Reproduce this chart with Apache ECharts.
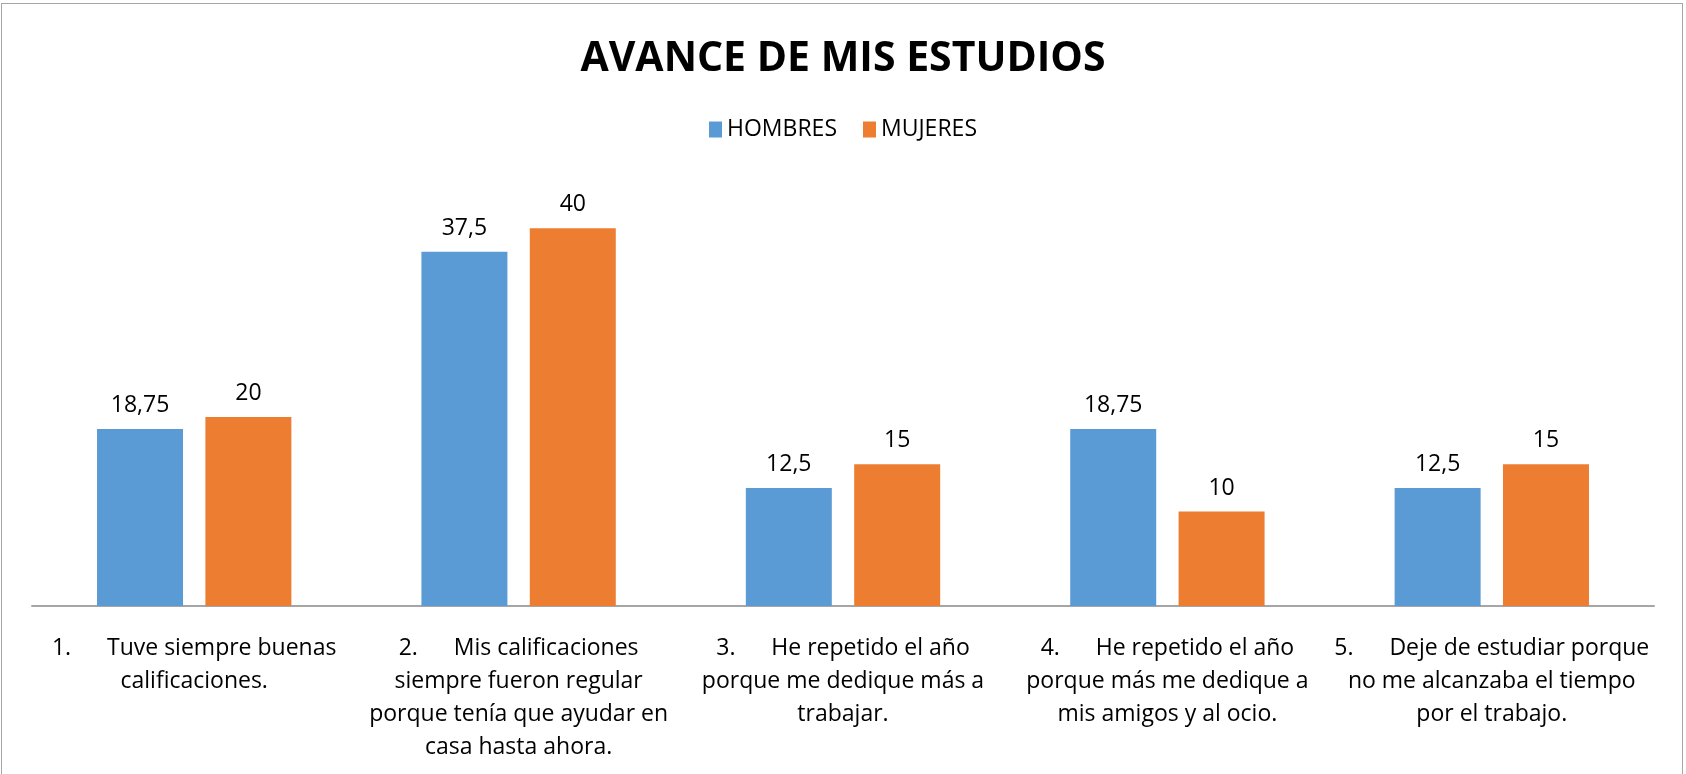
<!DOCTYPE html>
<html>
<head>
<meta charset="utf-8">
<title>Avance de mis estudios</title>
<script src="https://cdn.jsdelivr.net/npm/echarts@6/dist/echarts.min.js"></script>
<style>
  html, body { margin: 0; padding: 0; background: #fff; }
  #main { width: 1686px; height: 774px; }
  #frame { position: absolute; left: 1px; top: 3px; width: 1680px; height: 780px; border: 1px solid #a6a6a6; pointer-events: none; }
</style>
</head>
<body>
<div id="main"></div>
<div id="frame"></div>
<script>
// categorías (ya partidas en líneas como en la hoja)
var categorias = [
  '1.      Tuve siempre buenas\ncalificaciones.',
  '2.      Mis calificaciones\nsiempre fueron regular\nporque tenía que ayudar en\ncasa hasta ahora.',
  '3.      He repetido el año\nporque me dedique más a\ntrabajar.',
  '4.      He repetido el año\nporque más me dedique a\nmis amigos y al ocio.',
  '5.      Deje de estudiar porque\nno me alcanzaba el tiempo\npor el trabajo.'
];
var hombres = [18.75, 37.5, 12.5, 18.75, 12.5];
var mujeres = [20, 40, 15, 10, 15];

var fuente = '"Open Sans", "DejaVu Sans", sans-serif';

var myChart = echarts.init(document.getElementById('main'));

var etiqueta = {
  show: true,
  position: 'top',
  distance: 12,
  color: '#000',
  fontFamily: fuente,
  fontSize: 23,
  formatter: function (p) {
    return String(p.value).replace('.', ',');
  }
};

myChart.setOption({
  animation: false,
  color: ['#5B9BD5', '#ED7D31'],
  title: {
    text: 'AVANCE DE MIS ESTUDIOS',
    left: 'center',
    top: 34,
    textStyle: { fontFamily: fuente, fontSize: 41, fontWeight: 'bold', color: '#000' }
  },
  legend: {
    data: ['HOMBRES', 'MUJERES'],
    left: 'center',
    top: 113,
    icon: 'rect',
    itemWidth: 13,
    itemHeight: 16,
    itemGap: 26,
    textStyle: { fontFamily: fuente, fontSize: 23, color: '#000' }
  },
  grid: {
    left: 32,
    right: 32,
    top: 181,
    bottom: 168
  },
  xAxis: {
    type: 'category',
    data: categorias,
    axisLine: { lineStyle: { color: '#a6a6a6', width: 2 } },
    axisTick: { show: false },
    axisLabel: {
      interval: 0,
      margin: 26,
      color: '#000',
      fontFamily: fuente,
      fontSize: 23,
      lineHeight: 33,
      align: 'center'
    }
  },
  yAxis: {
    type: 'value',
    min: 0,
    max: 45,
    show: false,
    splitLine: { show: false }
  },
  series: [
    {
      name: 'HOMBRES',
      type: 'bar',
      barWidth: 86,
      barGap: '26%',
      data: hombres,
      label: etiqueta
    },
    {
      name: 'MUJERES',
      type: 'bar',
      barWidth: 86,
      barGap: '26%',
      data: mujeres,
      label: etiqueta
    }
  ]
});
</script>
</body>
</html>
